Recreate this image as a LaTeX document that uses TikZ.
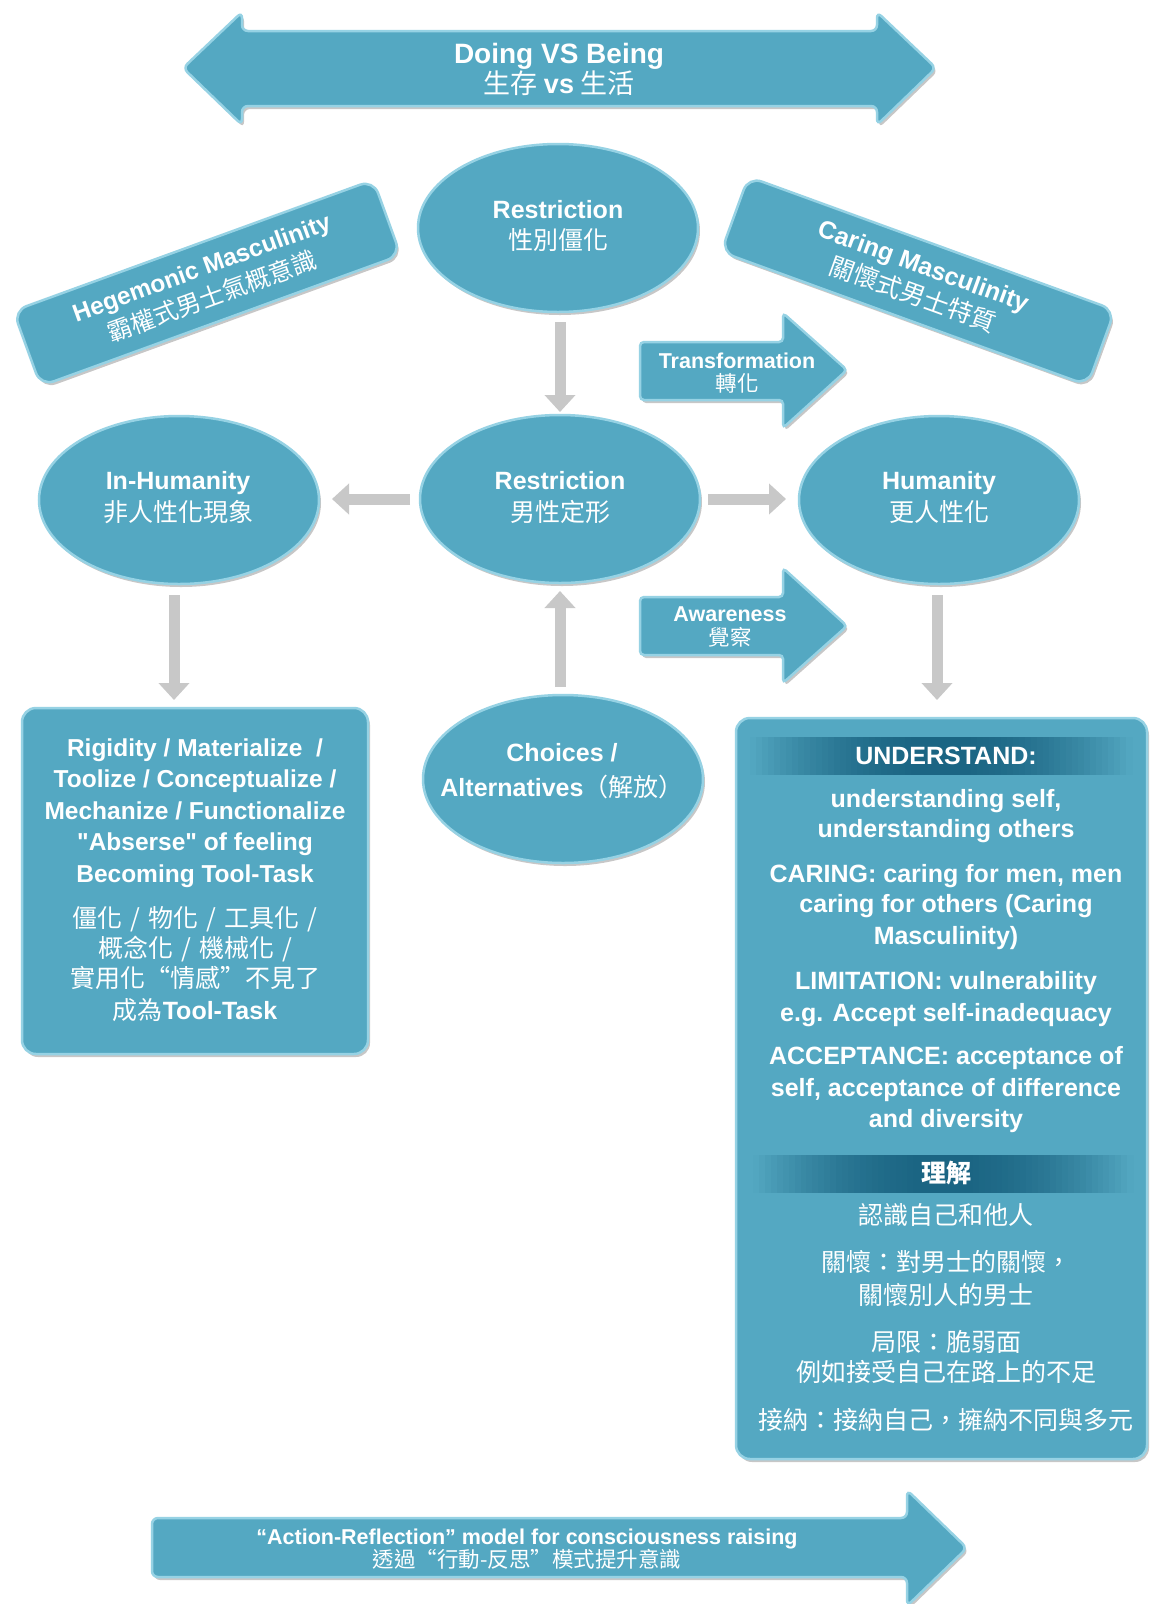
\documentclass[tikz,border=0pt]{standalone}
\usepackage{fontspec}
\setmainfont{Liberation Sans}[Ligatures=TeXOff]
\newfontfamily\cjkfont{Noto Sans CJK TC}
\usetikzlibrary{shapes.geometric,arrows.meta,shadows}
\definecolor{tealfill}{RGB}{84,168,194}
\definecolor{tealedge}{RGB}{150,210,228}
\definecolor{grayarr}{RGB}{200,200,200}
\definecolor{darkbar}{RGB}{26,100,130}
\newcommand\slsep{\hspace{8pt}/\hspace{8pt}}
\tikzset{
  tealshape/.style={fill=tealfill, draw=tealedge, line width=2.5pt,
    drop shadow={shadow xshift=2pt, shadow yshift=-3pt, opacity=0.22, fill=black}},
  ellnode/.style={tealshape, ellipse, minimum width=280pt, minimum height=168pt, inner sep=0pt, outer sep=0pt},
  boxnode/.style={tealshape, rectangle, rounded corners=14pt, inner sep=0pt, outer sep=0pt},
  fatarrow/.style={tealshape, rounded corners=4pt},
  garrow/.style={draw=grayarr, line width=11pt, -{Triangle[width=30pt,length=17pt]}},
  wt/.style={text=white, inner sep=0pt, outer sep=0pt, anchor=base},
  latb/.style={wt, font=\fontsize{25}{30}\selectfont\bfseries},
  latl/.style={wt, font=\fontsize{24.5}{30}\selectfont\bfseries},
  cjkt/.style={wt, font=\fontsize{25}{30}\selectfont\cjkfont\mdseries},
  cjkl/.style={wt, font=\fontsize{25}{30}\selectfont\cjkfont\mdseries},
  lats/.style={wt, font=\fontsize{21.5}{26}\selectfont\bfseries},
  cjks/.style={wt, font=\fontsize{21.5}{26}\selectfont\cjkfont\mdseries},
}
\begin{document}
\begin{tikzpicture}[x=1pt,y=-1pt]
\fill[white] (0,0) rectangle (1150,1604);
\useasboundingbox (0,0) rectangle (1150,1604);

% top double arrow
\path[fatarrow, rounded corners=6pt] (183,68) -- (242,12) -- (242,31) -- (877,31) -- (877,12) -- (936,68)
  -- (877,125) -- (877,106) -- (242,106) -- (242,125) -- cycle;
\node[wt, font=\fontsize{28}{32}\selectfont\bfseries] (dvb1) at (559,63) {Doing VS Being};
\node[wt, font=\fontsize{27}{32}\selectfont\cjkfont\mdseries] (dvb2) at (559,93) {生存 {\rmfamily\bfseries vs} 生活};

% rotated boxes
\node[boxnode, rotate=20, minimum width=383pt, minimum height=80pt, text=white, align=center,
      font=\fontsize{24.5}{31}\selectfont\bfseries] (hege) at (207,283)
  {Hegemonic Masculinity\\{\cjkfont\mdseries 霸權式男士氣概意識}};
\node[boxnode, rotate=-20, minimum width=390pt, minimum height=80pt, text=white, align=center,
      font=\fontsize{25}{31}\selectfont\bfseries] (caring) at (918,281)
  {Caring Masculinity\\{\cjkfont\mdseries 關懷式男士特質}};

% ellipses
\node[ellnode] (r1) at (558,228) {};
\node[ellnode] (r2) at (560,499) {};
\node[ellnode] (ih) at (179,500) {};
\node[ellnode] (hu) at (939,500) {};
\node[ellnode] (ch) at (563,779) {};

\node[latb] (r1a) at (558,218) {Restriction};
\node[cjkt] (r1b) at (558,249.5) {性別僵化};
\node[latb] (r2a) at (560,489) {Restriction};
\node[cjkt] (r2b) at (560,521) {男性定形};
\node[latb] (iha) at (178,489) {In-Humanity};
\node[cjkt] (ihb) at (178,521) {非人性化現象};
\node[latb] (hua) at (939,489) {Humanity};
\node[cjkt] (hub) at (939,521) {更人性化};
\node[latb] (cha) at (562,761) {Choices /};
\node[latb] (chb) at (562,796) {Alternatives{\cjkfont\mdseries （解放）}};

% fat arrows
\path[fatarrow] (640,342) -- (783,342) -- (783,313) -- (847,370) -- (783,428) -- (783,400) -- (640,400) -- cycle;
\node[lats] (tra) at (737,368) {Transformation};
\node[cjks] (trb) at (737,391) {轉化};
\path[fatarrow] (640,597) -- (783,597) -- (783,568) -- (847,626) -- (783,683) -- (783,655) -- (640,655) -- cycle;
\node[lats] (awa) at (730,621) {Awareness};
\node[cjks] (awb) at (730,645) {覺察};

% boxes
\node[boxnode, minimum width=346pt, minimum height=346pt] (lbox) at (195,881) {};
\node[boxnode, minimum width=411pt, minimum height=741pt] (rbox) at (941.5,1088.5) {};

% gray connectors
\draw[garrow, shorten <=10pt, shorten >=3pt] (r2.north |- r1.south) -- (r2.north);
\draw[garrow, shorten <=10pt, shorten >=13pt] (r2.west) -- (r2.west -| ih.east);
\draw[garrow, shorten <=8pt, shorten >=13pt] (r2.east) -- (r2.east -| hu.west);
\draw[garrow, shorten <=8pt, shorten >=8pt] (r2.south |- ch.north) -- (r2.south);
\draw[garrow, shorten <=11pt, shorten >=8pt] ([xshift=-5pt]ih.south) -- ([xshift=-5pt]ih.south |- lbox.north);
\draw[garrow, shorten <=11pt, shorten >=18pt] ([xshift=-2pt]hu.south) -- ([xshift=-2pt]hu.south |- rbox.north);

% left box text
\node[latl] (lt1) at (195,756) {Rigidity / Materialize\ \ /};
\node[latl] (lt2) at (195,787.5) {Toolize / Conceptualize /};
\node[latl] (lt3) at (195,819) {Mechanize / Functionalize};
\node[latl] (lt4) at (195,850.5) {"Abserse" of feeling};
\node[latl] (lt5) at (195,882) {Becoming Tool-Task};
\node[cjkl] (lc1) at (195,927) {僵化\slsep 物化\slsep 工具化\slsep};
\node[cjkl] (lc2) at (195,957) {概念化\slsep 機械化\slsep};
\node[cjkl] (lc3) at (195,987) {實用化“情感”不見了};
\node[cjkl] (lc4) at (195,1019) {成為{\rmfamily\bfseries Tool-Task}};

% right box header bars (horizontal fade)
\foreach \i in {0,...,63} {
  \pgfmathtruncatemacro\pp{100*(1-((\i-31.5)/32)^2)}
  \pgfmathsetmacro\xa{750+\i*5.97}
  \pgfmathsetmacro\xb{\xa+6.6}
  \pgfmathsetmacro\xc{753+\i*5.94}
  \pgfmathsetmacro\xd{\xc+6.6}
  \fill[darkbar!\pp!tealfill] (\xa,737) rectangle (\xb,775);
  \fill[darkbar!\pp!tealfill] (\xc,1155) rectangle (\xd,1193);
}

% right box text
\node[latb] (rt1) at (946,764) {UNDERSTAND:};
\node[latb] (rt2) at (946,807) {understanding self,};
\node[latb] (rt3) at (946,837) {understanding others};
\node[latb] (rt4) at (946,882) {CARING: caring for men, men};
\node[latb] (rt5) at (946,912) {caring for others (Caring};
\node[latb] (rt6) at (946,944) {Masculinity)};
\node[latb] (rt7) at (946,989) {LIMITATION: vulnerability};
\node[latb] (rt8) at (946,1021) {e.g. Accept self-inadequacy};
\node[latb] (rt9) at (946,1064) {ACCEPTANCE: acceptance of};
\node[latb] (rt10) at (946,1096) {self, acceptance of difference};
\node[latb] (rt11) at (946,1127) {and diversity};
\node[cjkt, font=\fontsize{25}{30}\selectfont\cjkfont\bfseries] (rc1) at (946,1182) {理解};
\node[cjkt] (rc2) at (946,1224) {認識自己和他人};
\node[cjkt] (rc3) at (946,1271) {關懷：對男士的關懷，};
\node[cjkt] (rc4) at (946,1304) {關懷別人的男士};
\node[cjkt] (rc5) at (946,1351) {局限：脆弱面};
\node[cjkt] (rc6) at (946,1381) {例如接受自己在路上的不足};
\node[cjkt] (rc7) at (946,1429) {接納：接納自己，擁納不同與多元};

% bottom arrow
\path[fatarrow, rounded corners=6pt] (152,1518) -- (907,1518) -- (907,1490) -- (967,1548) -- (907,1606) -- (907,1577) -- (152,1577) -- cycle;
\node[lats] (ar1) at (527,1544) {“Action-Reflection” model for consciousness raising};
\node[cjks] (ar2) at (527,1567) {透過“行動-反思”模式提升意識};
\end{tikzpicture}
\end{document}
